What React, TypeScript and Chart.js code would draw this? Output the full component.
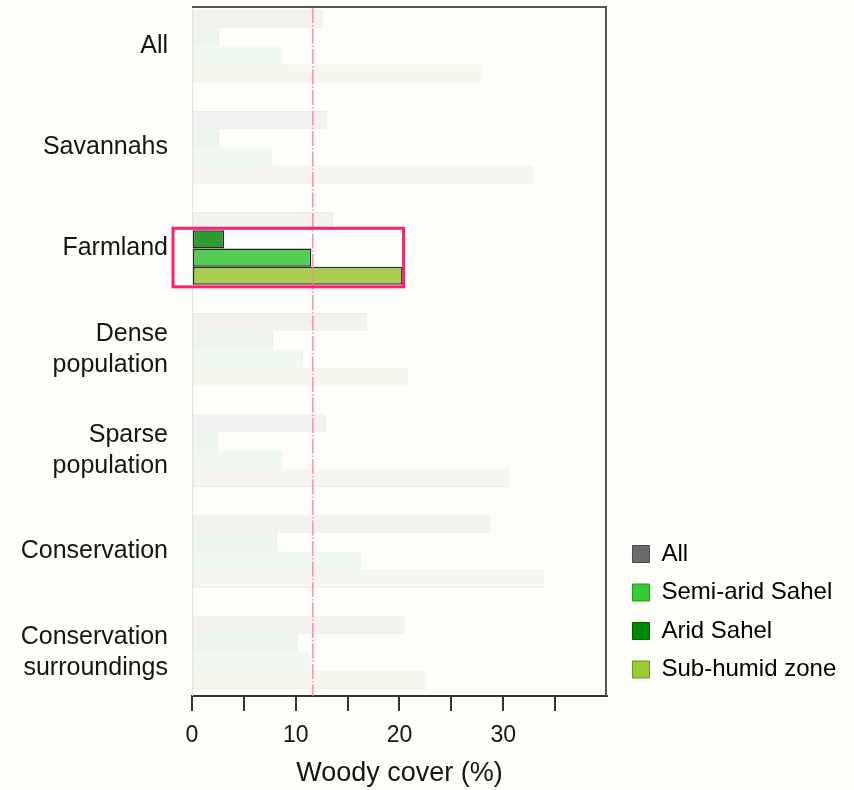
import React, { useEffect, useRef } from "react";
import { Chart, registerables } from "chart.js";

Chart.register(...registerables);

const categories: (string | string[])[] = [
  "All",
  "Savannahs",
  "Farmland",
  ["Dense", "population"],
  ["Sparse", "population"],
  "Conservation",
  ["Conservation", "surroundings"],
];
const seriesNames = ["All", "Arid Sahel", "Semi-arid Sahel", "Sub-humid zone"];
const allValues = [12.6, 13.0, 13.6, 16.9, 12.9, 28.7, 20.5];
const aridValues = [2.6, 2.6, 3.1, 7.8, 2.5, 8.2, 10.2];
const semiAridValues = [8.7, 7.7, 11.5, 10.7, 8.7, 16.3, 11.4];
const subHumidValues = [27.9, 32.9, 20.3, 20.8, 30.6, 33.9, 22.6];
const legendOrder = ["All", "Semi-arid Sahel", "Arid Sahel", "Sub-humid zone"];
const highlightIndex = 2;
const highlightedSeries = ["Arid Sahel", "Semi-arid Sahel", "Sub-humid zone"];
const referenceValue = 11.65;
const xMax = 40;
const xTickStep = 5;
const xLabelEvery = 10;
const yMin = -0.4;
const yMax = 6.43;

const FONT = '"Liberation Sans", Arial, Helvetica, sans-serif';

const strongFill: Record<string, string> = {
  All: "#6a6a6a",
  "Arid Sahel": "#2f9a2f",
  "Semi-arid Sahel": "#55cc55",
  "Sub-humid zone": "#a9cc4e",
};
const faintFill: Record<string, string> = {
  All: "#f2f2f0",
  "Arid Sahel": "#edf6ec",
  "Semi-arid Sahel": "#f0f9ef",
  "Sub-humid zone": "#f5f7ee",
};
const faintBorder: Record<string, string> = {
  All: "#ebebe8",
  "Arid Sahel": "#e8efe7",
  "Semi-arid Sahel": "#eaf3e9",
  "Sub-humid zone": "#eef0e8",
};
const legendFill: Record<string, string> = {
  All: "#6b6b6b",
  "Semi-arid Sahel": "#33cc33",
  "Arid Sahel": "#008a00",
  "Sub-humid zone": "#99cc33",
};
const legendStroke: Record<string, string> = {
  All: "#4a4a4a",
  "Semi-arid Sahel": "#2a8f2a",
  "Arid Sahel": "#005a00",
  "Sub-humid zone": "#6f8f2a",
};

const seriesValues = [allValues, aridValues, semiAridValues, subHumidValues];

export default function App() {
  const canvasRef = useRef<HTMLCanvasElement | null>(null);

  useEffect(() => {
    if (!canvasRef.current) return;

    const datasets = seriesNames.map((name, si) => {
      const hl = highlightedSeries.includes(name);
      return {
        label: name,
        data: seriesValues[si].map((v, i) => ({ x: v, y: i })),
        backgroundColor: seriesValues[si].map((_, i) =>
          hl && i === highlightIndex ? strongFill[name] : faintFill[name]
        ),
        borderColor: seriesValues[si].map((_, i) =>
          hl && i === highlightIndex ? "#1e2a1e" : faintBorder[name]
        ),
        borderWidth: seriesValues[si].map((_, i) =>
          hl && i === highlightIndex ? 1.5 : 1
        ),
        borderSkipped: false as const,
        categoryPercentage: 0.72,
        barPercentage: 1.0,
      };
    });

    const decorations = {
      id: "decorations",
      afterLayout(chart: any) {
        const lg = chart.legend;
        if (lg) {
          lg.left += 11;
          lg.right = chart.width;
          lg.width = lg.right - lg.left;
        }
      },
      beforeDraw(chart: any) {
        const { ctx } = chart;
        ctx.save();
        ctx.fillStyle = "#fdfdf9";
        ctx.fillRect(0, 0, chart.width, chart.height);
        ctx.restore();
      },
      afterDatasetsDraw(chart: any) {
        const { ctx, chartArea } = chart;
        const xs = chart.scales.x;
        ctx.save();
        // frame
        ctx.strokeStyle = "#e2e2de";
        ctx.lineWidth = 1;
        ctx.beginPath();
        ctx.moveTo(chartArea.left + 0.5, chartArea.top);
        ctx.lineTo(chartArea.left + 0.5, chartArea.bottom);
        ctx.stroke();
        ctx.strokeStyle = "#555555";
        ctx.lineWidth = 2;
        ctx.beginPath();
        ctx.moveTo(chartArea.left, chartArea.top + 1);
        ctx.lineTo(chartArea.right - 1, chartArea.top + 1);
        ctx.lineTo(chartArea.right - 1, chartArea.bottom);
        ctx.stroke();
        // reference line
        const rx = xs.getPixelForValue(referenceValue);
        ctx.strokeStyle = "#ff7aa6";
        ctx.lineWidth = 1.3;
        ctx.setLineDash([15, 2, 1.5, 2]);
        ctx.beginPath();
        ctx.moveTo(rx, chartArea.top + 2);
        ctx.lineTo(rx, chartArea.bottom);
        ctx.stroke();
        ctx.setLineDash([]);
        // highlight box around the highlighted bars
        let top = Infinity;
        let bottom = -Infinity;
        let maxVal = 0;
        seriesNames.forEach((name, si) => {
          if (!highlightedSeries.includes(name)) return;
          const el = chart.getDatasetMeta(si).data[highlightIndex];
          if (!el) return;
          top = Math.min(top, el.y - el.height / 2);
          bottom = Math.max(bottom, el.y + el.height / 2);
          maxVal = Math.max(maxVal, seriesValues[si][highlightIndex]);
        });
        const left = chartArea.left - 19;
        const right = xs.getPixelForValue(maxVal) + 1;
        ctx.strokeStyle = "#ff1f6e";
        ctx.lineWidth = 3;
        ctx.strokeRect(left, top - 2, right - left, bottom - top + 4);
        ctx.restore();
      },
    };

    const chart = new Chart(canvasRef.current, {
      type: "bar",
      data: { datasets: datasets as any },
      options: {
        indexAxis: "y",
        animation: false,
        responsive: true,
        maintainAspectRatio: false,
        layout: { padding: { top: 6, right: 44.7, bottom: 0, left: 0 } },
        scales: {
          x: {
            type: "linear",
            min: 0,
            max: xMax,
            ticks: {
              stepSize: xTickStep,
              color: "#151515",
              font: { family: FONT, size: 23 },
              padding: 11,
              maxRotation: 0,
              autoSkip: false,
              callback: (v: any) =>
                Number(v) % xLabelEvery === 0 && Number(v) < xMax ? String(v) : "",
            },
            grid: {
              display: true,
              drawOnChartArea: false,
              drawTicks: true,
              tickLength: 15,
              color: (c: any) =>
                c.tick && c.tick.value >= xMax ? "rgba(0,0,0,0)" : "#333333",
              lineWidth: 2,
            },
            border: { display: true, color: "#333333", width: 2 },
            title: {
              display: true,
              text: "Woody cover (%)",
              color: "#151515",
              font: { family: FONT, size: 27 },
              padding: { top: -3, bottom: 0 },
            },
          },
          y: {
            type: "linear",
            reverse: true,
            offset: false,
            min: yMin,
            max: yMax,
            afterBuildTicks: (scale: any) => {
              scale.ticks = categories.map((_, i) => ({ value: i }));
            },
            ticks: {
              color: "#151515",
              font: { family: FONT, size: 25, lineHeight: 1.25 },
              padding: 24,
              autoSkip: false,
              callback: (v: any) => {
                const i = Math.round(Number(v));
                return categories[i] ?? "";
              },
            },
            grid: { display: false, drawTicks: false, offset: false },
            border: { display: false },
            afterFit: (scale: any) => {
              scale.width = 192;
              scale.paddingTop = 0;
              scale.paddingBottom = 0;
            },
          },
        },
        plugins: {
          tooltip: { enabled: false },
          legend: {
            position: "right",
            align: "end",
            fullSize: false,
            labels: {
              boxWidth: 17,
              boxHeight: 17,
              padding: 14.5,
              color: "#151515",
              font: { family: FONT, size: 24 },
              generateLabels: () =>
                legendOrder.map((name) => ({
                  text: name,
                  fillStyle: legendFill[name],
                  strokeStyle: legendStroke[name],
                  lineWidth: 1,
                  hidden: false,
                  datasetIndex: seriesNames.indexOf(name),
                })),
            },
          },
        },
      },
      plugins: [decorations],
    });

    return () => chart.destroy();
  }, []);

  return (
    <div style={{ position: "absolute", left: 0, top: 0, width: 854, height: 790 }}>
      <canvas ref={canvasRef} />
    </div>
  );
}
